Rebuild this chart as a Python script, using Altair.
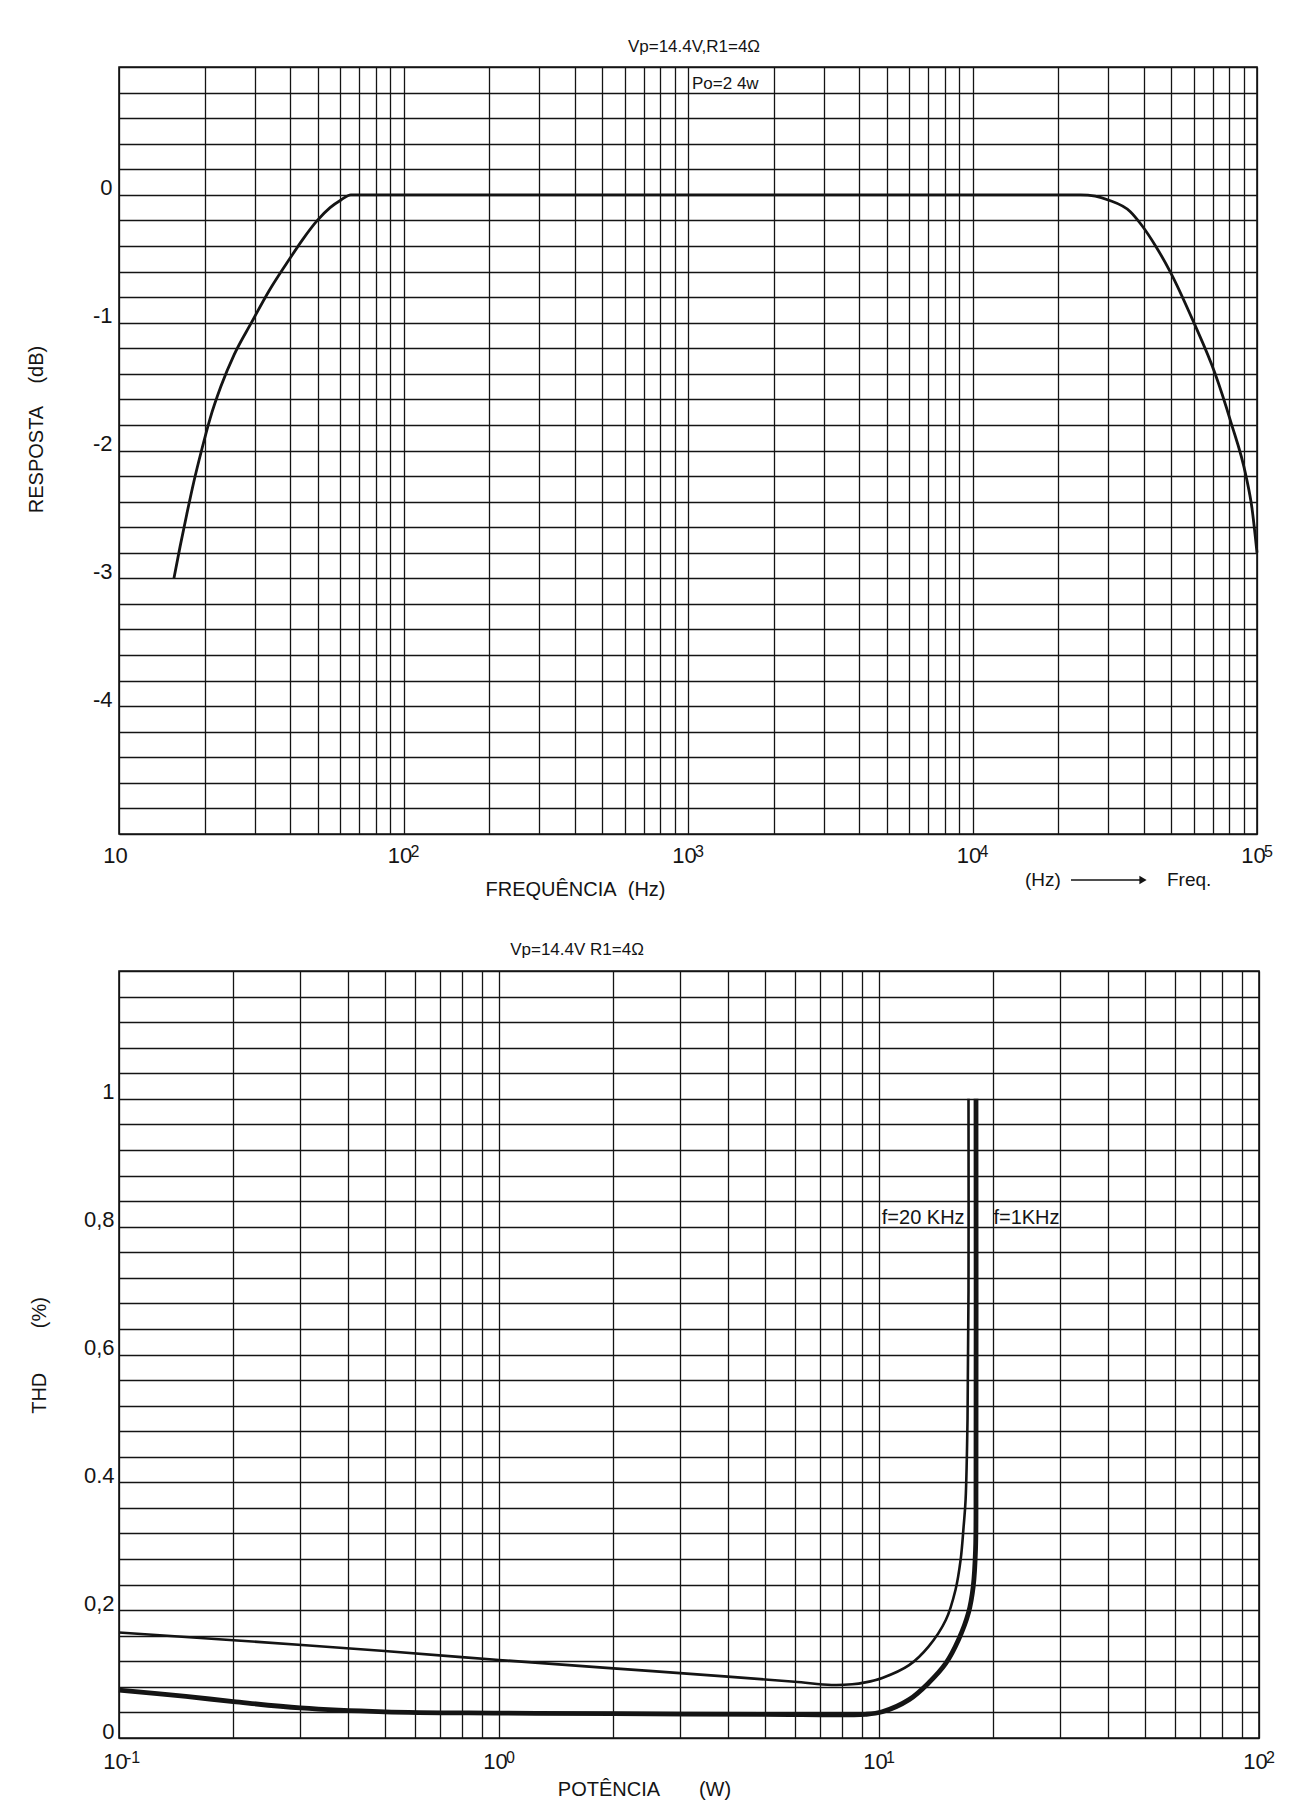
import altair as alt
import pandas as pd

FONT = "Liberation Sans"
INK = "#141414"

# ---------------- Response vs frequency (top) ----------------
freq_hz = [15.6, 16.4, 17.3, 18.3, 19.5, 20.9, 22.8, 25.4, 29.2, 33.7, 39.8, 44.2, 49.8, 55.2, 60.3,
           65.3, 100, 1000, 10000, 24000, 27000, 30000, 35800, 39400, 44000, 49500, 60000, 71000,
           81000, 91500, 96000, 100000]
resp_db = [-3.0, -2.75, -2.5, -2.25, -2.0, -1.75, -1.5, -1.25, -1.0, -0.75, -0.5, -0.35, -0.2, -0.1,
           -0.04, 0.0, 0.0, 0.0, 0.0, 0.0, -0.01, -0.04, -0.13, -0.24, -0.40, -0.60, -1.0, -1.39,
           -1.78, -2.2, -2.45, -2.8]

freq_decades = [10, 100, 1000, 10000, 100000]
freq_exponents = ["", "2", "3", "4", "5"]
resp_tick_values = [0, -1, -2, -3, -4]
resp_tick_labels = ["0", "-1", "-2", "-3", "-4"]

# ---------------- THD vs power (bottom) ----------------
pot_20k = [0.1, 0.2, 0.5, 1.0, 2.0, 4.0, 6.0, 7.5, 8.5, 9.2, 10.2, 12.0, 13.5, 15.0, 15.9, 16.4, 16.7,
           16.9, 17.1, 17.2, 17.2]
thd_20k = [0.165, 0.153, 0.136, 0.122, 0.109, 0.096, 0.088, 0.083, 0.084, 0.087, 0.094, 0.114, 0.143,
           0.185, 0.232, 0.279, 0.331, 0.373, 0.5, 0.7, 1.0]
pot_1k = [0.1, 0.15, 0.2, 0.3, 0.5, 1.0, 2.0, 5.0, 9.2, 10.2, 12.0, 13.5, 15.0, 16.2, 17.2, 17.7, 17.95,
          18.0, 18.0]
thd_1k = [0.075, 0.065, 0.057, 0.047, 0.041, 0.039, 0.038, 0.037, 0.037, 0.041, 0.060, 0.086, 0.117,
          0.154, 0.196, 0.237, 0.295, 0.4, 1.0]

pot_decades = [0.1, 1, 10, 100]
pot_exponents = ["-1", "0", "1", "2"]
thd_tick_values = [0, 0.2, 0.4, 0.6, 0.8, 1.0]
thd_tick_labels = ["0", "0,2", "0.4", "0,6", "0,8", "1"]

# ---------------- helpers ----------------
def lin_expr(values, labels):
    parts = [f"abs(datum.value - ({v})) < 1e-6 ? '{l}'" for v, l in zip(values, labels)]
    return " : ".join(parts) + " : ''"


def log_expr(values, label):
    parts = [f"abs(datum.value / {v} - 1) < 1e-6" for v in values]
    return "(" + " || ".join(parts) + f") ? '{label}' : ''"


def log_grid(decades):
    out = []
    for d in decades[:-1]:
        out += [m * d for m in range(1, 10)]
    return out + [decades[-1]]


grid_style = dict(grid=True, gridColor=INK, gridWidth=1.3, gridOpacity=1, ticks=False, domain=False,
                  tickCount=500, labelFont=FONT, labelColor=INK, labelFontSize=22,
                  labelOverlap=False, labelFlush=False, titleFont=FONT, titleFontSize=20,
                  titleFontWeight="normal", titleColor=INK)

W1, H1 = 1138, 767
W2, H2 = 1140, 767


def text_at(txt, x, y, size, align="center"):
    return alt.Chart(pd.DataFrame({"t": [txt]})).mark_text(
        align=align, baseline="middle", fontSize=size, font=FONT, color=INK).encode(
        x=alt.value(x), y=alt.value(y), text="t:N")


# ---------------- top chart ----------------
fx = alt.Scale(type="log", domain=[10, 100000], nice=False)
fy = alt.Scale(domain=[-5, 1], nice=False, zero=False)

resp_df = pd.DataFrame({"f": freq_hz, "db": resp_db})
resp_line = alt.Chart(resp_df).mark_line(color=INK, strokeWidth=2.8, interpolate="monotone").encode(
    x=alt.X("f:Q", scale=fx, axis=alt.Axis(
        values=log_grid(freq_decades), labelExpr=log_expr(freq_decades, "10"),
        labelPadding=11, labelOffset=-4,
        title="FREQUÊNCIA\u00a0\u00a0(Hz)", titleX=456, titleY=55, titleBaseline="middle",
        titleAlign="center", **grid_style)),
    y=alt.Y("db:Q", scale=fy, axis=alt.Axis(
        values=[round(-5 + 0.2 * i, 2) for i in range(31)],
        labelExpr=lin_expr(resp_tick_values, resp_tick_labels), labelPadding=7,
        labelBaseline="alphabetic",
        title="RESPOSTA\u00a0\u00a0\u00a0\u00a0(dB)", titleX=-83, titleY=362, titleAngle=270,
        titleBaseline="middle", titleAlign="center", **grid_style)),
)

fexp_df = pd.DataFrame({"f": freq_decades, "e": freq_exponents})
fexp = alt.Chart(fexp_df).mark_text(align="left", baseline="alphabetic", dx=7, fontSize=16,
                                    font=FONT, color=INK).encode(
    x=alt.X("f:Q", scale=fx), y=alt.value(H1 + 23), text="e:N")

po_df = pd.DataFrame({"f": [1000], "db": [0.87], "t": ["Po=2 4w"]})
po_text = alt.Chart(po_df).mark_text(align="left", baseline="middle", dx=4, fontSize=17,
                                     font=FONT, color=INK).encode(
    x=alt.X("f:Q", scale=fx), y=alt.Y("db:Q", scale=fy), text="t:N")

one = pd.DataFrame({"k": [0]})
hz_rule = alt.Chart(one).mark_rule(color=INK, strokeWidth=1.5).encode(
    x=alt.value(952), x2=alt.value(1022), y=alt.value(813))
hz_head = alt.Chart(one).mark_point(shape="triangle-right", filled=True, size=70, color=INK,
                                    opacity=1).encode(x=alt.value(1024), y=alt.value(813))

top = alt.layer(
    resp_line, fexp, po_text,
    text_at("(Hz)", 906, 813, 19, "left"), hz_rule, hz_head, text_at("Freq.", 1048, 813, 19, "left"),
    text_at("Vp=14.4V,R1=4Ω", 575, -20, 17),
).properties(width=W1, height=H1)

# ---------------- bottom chart ----------------
px = alt.Scale(type="log", domain=[0.1, 100], nice=False)
py = alt.Scale(domain=[0, 1.2], nice=False, zero=False)

thd_df = pd.DataFrame({
    "p": pot_20k + pot_1k,
    "thd": thd_20k + thd_1k,
    "s": ["20k"] * len(pot_20k) + ["1k"] * len(pot_1k),
    "i": list(range(len(pot_20k))) + list(range(len(pot_1k))),
})

x2_axis = alt.Axis(values=[round(v, 4) for v in log_grid(pot_decades)],
                   labelExpr=log_expr(pot_decades, "10"), labelPadding=13, labelOffset=-4,
                   title="POTÊNCIA" + "\u00a0" * 7 + "(W)", titleX=525, titleY=51,
                   titleBaseline="middle", titleAlign="center", **grid_style)
y2_axis = alt.Axis(values=[round(0.04 * i, 2) for i in range(31)],
                   labelExpr=lin_expr(thd_tick_values, thd_tick_labels), labelPadding=5,
                   labelBaseline="alphabetic",
                   title="THD" + "\u00a0" * 8 + "(%)", titleX=-80, titleY=384, titleAngle=270,
                   titleBaseline="middle", titleAlign="center", **grid_style)

thd_lines = alt.Chart(thd_df).mark_line(color=INK, interpolate="catmull-rom").encode(
    x=alt.X("p:Q", scale=px, axis=x2_axis),
    y=alt.Y("thd:Q", scale=py, axis=y2_axis),
    detail="s:N",
    order=alt.Order("i:Q"),
    strokeWidth=alt.StrokeWidth("s:N", scale=alt.Scale(domain=["20k", "1k"], range=[2.6, 4.8]),
                                legend=None),
)

pexp_df = pd.DataFrame({"p": pot_decades, "e": pot_exponents})
pexp = alt.Chart(pexp_df).mark_text(align="left", baseline="alphabetic", dx=7, fontSize=16,
                                    font=FONT, color=INK).encode(
    x=alt.X("p:Q", scale=px), y=alt.value(H2 + 25), text="e:N")

ann_df = pd.DataFrame({"p": [16.8, 20.0], "thd": [0.814, 0.814], "t": ["f=20 KHz", "f=1KHz"]})
ann_l = alt.Chart(ann_df.iloc[[0]]).mark_text(align="right", baseline="middle", fontSize=20,
                                              font=FONT, color=INK).encode(
    x=alt.X("p:Q", scale=px), y=alt.Y("thd:Q", scale=py), text="t:N")
ann_r = alt.Chart(ann_df.iloc[[1]]).mark_text(align="left", baseline="middle", fontSize=20,
                                              font=FONT, color=INK).encode(
    x=alt.X("p:Q", scale=px), y=alt.Y("thd:Q", scale=py), text="t:N")

bottom = alt.layer(
    thd_lines, pexp, ann_l, ann_r,
    text_at("Vp=14.4V R1=4Ω", 458, -21, 17),
).properties(width=W2, height=H2)

chart = alt.vconcat(top, bottom, spacing=40).configure_view(
    stroke=INK, strokeWidth=1.6).properties(
    background="white", padding={"left": 25, "top": 37, "right": 0, "bottom": 0})

chart.save("out.html", embed_options={"renderer": "svg", "actions": False})
